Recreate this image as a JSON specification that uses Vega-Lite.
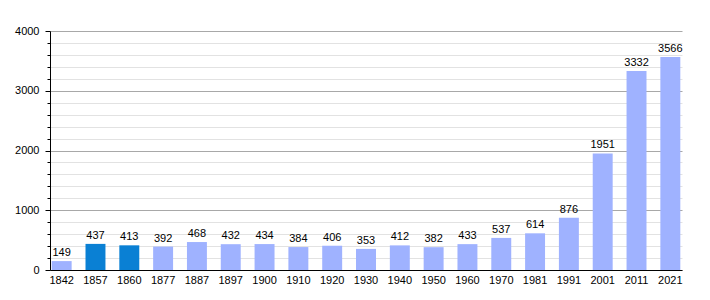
{
  "$schema": "https://vega.github.io/schema/vega-lite/v6.json",
  "autosize": "none",
  "width": 632,
  "height": 239,
  "padding": {"left": 50, "top": 31, "right": 28, "bottom": 30},
  "background": "white",
  "config": {"view": {"stroke": null}, "font": "Liberation Sans"},
  "data": {"values": [
    {"year": "1842", "pop": 149, "grp": "a"},
    {"year": "1857", "pop": 437, "grp": "b"},
    {"year": "1860", "pop": 413, "grp": "b"},
    {"year": "1877", "pop": 392, "grp": "a"},
    {"year": "1887", "pop": 468, "grp": "a"},
    {"year": "1897", "pop": 432, "grp": "a"},
    {"year": "1900", "pop": 434, "grp": "a"},
    {"year": "1910", "pop": 384, "grp": "a"},
    {"year": "1920", "pop": 406, "grp": "a"},
    {"year": "1930", "pop": 353, "grp": "a"},
    {"year": "1940", "pop": 412, "grp": "a"},
    {"year": "1950", "pop": 382, "grp": "a"},
    {"year": "1960", "pop": 433, "grp": "a"},
    {"year": "1970", "pop": 537, "grp": "a"},
    {"year": "1981", "pop": 614, "grp": "a"},
    {"year": "1991", "pop": 876, "grp": "a"},
    {"year": "2001", "pop": 1951, "grp": "a"},
    {"year": "2011", "pop": 3332, "grp": "a"},
    {"year": "2021", "pop": 3566, "grp": "a"}
  ]},
  "encoding": {
    "x": {
      "field": "year", "type": "ordinal", "sort": null,
      "scale": {"paddingInner": 0.41, "paddingOuter": 0.05},
      "axis": {"title": null, "labelAngle": 0, "ticks": false, "domainColor": "#000", "labelColor": "#000", "labelFontSize": 11, "labelPadding": 4, "grid": false}
    },
    "y": {
      "field": "pop", "type": "quantitative",
      "scale": {"domain": [0, 4000], "nice": false},
      "axis": {
        "title": null,
        "values": [0, 200, 400, 600, 800, 1000, 1200, 1400, 1600, 1800, 2000, 2200, 2400, 2600, 2800, 3000, 3200, 3400, 3600, 3800, 4000],
        "labelExpr": "datum.value % 1000 === 0 ? datum.value : ''",
        "grid": true,
        "gridColor": {"condition": {"test": "datum.value % 1000 === 0", "value": "#a8a8a8"}, "value": "#e2e2e2"},
        "tickColor": "#000",
        "tickSize": {"condition": {"test": "datum.value % 1000 === 0", "value": 5}, "value": 3},
        "domainColor": "#000",
        "labelColor": "#000",
        "labelFontSize": 11,
        "labelPadding": 6
      }
    }
  },
  "layer": [
    {
      "mark": {"type": "bar"},
      "encoding": {
        "color": {"field": "grp", "type": "nominal", "scale": {"domain": ["a", "b"], "range": ["#9fb2ff", "#0a80d4"]}, "legend": null}
      }
    },
    {
      "mark": {"type": "text", "baseline": "bottom", "dy": -3, "fontSize": 11, "color": "#000"},
      "encoding": {"text": {"field": "pop", "type": "quantitative", "format": "d"}}
    }
  ]
}
